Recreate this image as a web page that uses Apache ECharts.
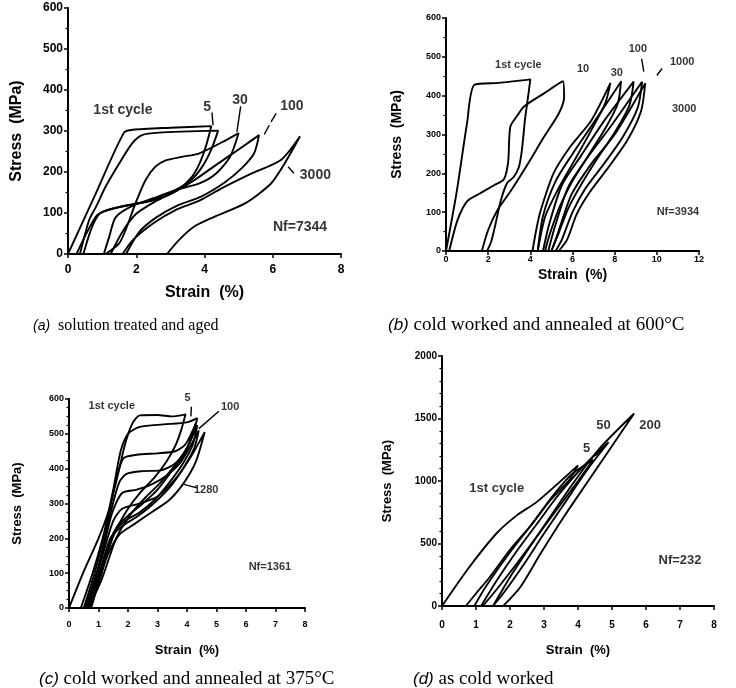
<!DOCTYPE html>
<html><head><meta charset="utf-8">
<script src="https://cdn.jsdelivr.net/npm/echarts@6/dist/echarts.min.js"></script>
<style>html,body{margin:0;padding:0;background:#fff}#c{width:736px;height:688px}</style>
</head><body><div id="c"></div>
<script>
// ---------- Panel (a): solution treated and aged ----------
const a_cycle1 = [[0,0],[0.8,145],[1.64,296],[1.9,303],[3,308],[4.2,312],[4.05,265],[3.85,220],[3.6,185],[3.2,155],[2.6,133],[1.9,121],[1.2,108],[0.86,95],[0.6,60],[0.25,0]];
const a_cycle5 = [[0.35,0],[0.62,83],[0.82,115],[1.1,164],[1.5,221],[1.88,270],[2.17,290],[2.66,296],[4.4,301],[4.2,255],[3.95,215],[3.6,180],[3.0,150],[2.3,128],[1.5,115],[0.95,100],[0.7,65],[0.45,0]];
const a_cycle30 = [[1.1,0],[1.5,26],[1.69,59],[1.98,124],[2.27,180],[2.56,213],[2.85,228],[3.34,237],[3.83,245],[4.5,272],[5.0,295],[4.75,237],[4.35,197],[3.85,172],[3.15,156],[2.5,136],[1.9,118],[1.4,90],[1.2,40],[1.05,0]];
const a_cycle100 = [[1.25,0],[1.6,55],[2.0,98],[2.6,130],[3.2,155],[3.7,180],[4.3,215],[5.0,255],[5.6,290],[5.45,245],[5.1,210],[4.6,175],[3.9,140],[3.2,118],[2.6,90],[2.1,55],[1.7,0]];
const a_cycle3000 = [[1.6,0],[1.9,34],[2.5,75],[3.15,107],[3.85,130],[4.5,160],[5.4,197],[6.25,230],[6.8,287],[6.35,221],[5.95,172],[5.2,124],[4.3,91],[3.7,67],[3.25,34],[2.9,0]];
// ---------- Panel (b): cold worked and annealed at 600°C ----------
const b_cycle1 = [[0,0],[0.5,150],[1.0,330],[1.35,428],[2.5,433],[4.0,442],[3.9,400],[3.75,340],[3.6,260],[3.45,215],[3.2,190],[2.9,175],[2.6,130],[2.35,70],[2.15,25],[1.95,0]];
const b_cycle2 = [[0.15,0],[0.55,80],[1.0,128],[1.6,148],[2.3,170],[2.75,185],[2.95,230],[3.05,320],[3.4,350],[3.7,372],[4.65,406],[5.55,437],[5.6,395],[5.35,354],[4.65,294],[3.9,226],[3.1,157],[2.45,106],[2.0,54],[1.7,0]];
const b_cycle10 = [[4.1,0],[4.3,60],[4.5,106],[5.1,200],[5.9,269],[6.9,337],[7.8,433],[7.55,380],[6.9,312],[6.1,234],[5.3,157],[4.7,88],[4.35,0]];
const b_cycle30 = [[4.35,0],[4.6,90],[5.2,180],[6.0,250],[7.0,330],[8.3,436],[8.15,380],[7.6,320],[6.8,250],[6.0,180],[5.4,115],[4.9,40],[4.7,0]];
const b_cycle100 = [[4.6,0],[4.9,70],[5.5,170],[6.4,245],[7.5,335],[8.9,436],[8.7,375],[8.0,305],[7.2,240],[6.4,170],[5.8,110],[5.3,40],[5.0,0]];
const b_cycle1000 = [[4.85,0],[5.15,60],[5.8,165],[6.7,240],[7.8,320],[9.3,436],[9.1,370],[8.4,295],[7.5,225],[6.6,160],[6.0,100],[5.5,30],[5.2,0]];
const b_cycle3000 = [[5.0,0],[5.3,45],[5.95,145],[6.9,225],[8.0,300],[9.45,432],[9.25,360],[8.6,285],[7.7,215],[6.8,150],[6.2,95],[5.75,30],[5.35,0]];
// ---------- Panel (c): cold worked and annealed at 375°C ----------
const c_cycle1 = [[0,0],[0.5,105],[1.0,200],[1.35,280],[1.65,380],[1.9,470],[2.15,530],[2.4,553],[3.0,554],[3.5,550],[3.95,556],[3.8,510],[3.6,465],[3.3,420],[2.9,375],[2.4,330],[2.0,285],[1.6,225],[1.2,140],[0.8,50],[0.5,0]];
const c_cycle5 = [[0.4,0],[0.8,100],[1.2,220],[1.5,340],[1.75,450],[2.0,500],[2.4,520],[3.2,527],[4.0,533],[4.35,545],[4.2,500],[3.95,450],[3.6,410],[3.1,360],[2.6,318],[2.1,270],[1.6,200],[1.1,80],[0.65,0]];
const c_cycle20 = [[0.5,0],[0.9,110],[1.3,250],[1.6,370],[1.85,430],[2.3,440],[3.0,444],[3.6,450],[3.95,470],[4.3,530],[4.15,490],[3.9,440],[3.5,395],[3.0,340],[2.5,300],[2.0,265],[1.6,230],[1.2,130],[0.7,0]];
const c_cycle100 = [[0.55,0],[1.0,120],[1.4,270],[1.7,360],[1.95,385],[2.5,393],[3.1,395],[3.6,415],[4.0,460],[4.35,525],[4.2,470],[3.9,420],[3.4,360],[2.9,310],[2.4,275],[1.9,250],[1.5,215],[1.1,100],[0.7,0]];
const c_cycle500 = [[0.6,0],[1.05,130],[1.45,270],[1.8,330],[2.3,340],[2.8,355],[3.3,380],[3.8,420],[4.4,510],[4.25,460],[3.9,405],[3.4,345],[2.8,295],[2.3,262],[1.8,235],[1.4,200],[1.0,90],[0.7,0]];
const c_cycle1280 = [[0.65,0],[1.1,140],[1.5,250],[1.8,285],[2.4,300],[3.0,320],[3.6,370],[4.1,430],[4.6,505],[4.3,420],[3.9,360],[3.4,310],[2.8,275],[2.2,240],[1.7,210],[1.3,150],[1.0,70],[0.75,0]];
// ---------- Panel (d): as cold worked ----------
const d_cycle1 = [[0,0],[0.8,310],[1.6,580],[2.2,725],[2.8,835],[4.0,1125],[3.75,1010],[3.2,850],[2.6,640],[2.0,450],[1.4,230],[1.0,100],[0.7,0]];
const d_cycle5 = [[0.95,0],[1.3,160],[2.0,430],[2.6,640],[3.2,860],[3.8,1050],[4.45,1170],[4.0,1000],[3.4,780],[2.8,560],[2.2,340],[1.6,130],[1.2,0]];
const d_cycle50 = [[1.15,0],[1.6,200],[2.2,440],[2.8,660],[3.4,880],[4.2,1130],[4.9,1310],[4.3,1100],[3.6,820],[3.0,580],[2.4,330],[1.8,100],[1.5,0]];
const d_cycle200 = [[1.5,0],[2.0,230],[2.6,480],[3.2,720],[3.8,960],[4.6,1250],[5.65,1540],[5.0,1280],[4.3,1000],[3.6,720],[2.9,420],[2.3,150],[1.8,0]];

// tick labels / ranges
const a_xTicks = [0,2,4,6,8], a_yTicks = [0,100,200,300,400,500,600];
const b_xTicks = [0,2,4,6,8,10,12], b_yTicks = [0,100,200,300,400,500,600];
const c_xTicks = [0,1,2,3,4,5,6,7,8], c_yTicks = [0,100,200,300,400,500,600];
const d_xTicks = [0,1,2,3,4,5,6,7,8], d_yTicks = [0,500,1000,1500,2000];

// annotations: [text, x, y]
const a_notes = [['1st cycle',1.61,351],['5',4.08,359],['30',5.04,376],['100',6.56,361],['3000',7.25,193],['Nf=7344',6.8,66]];
const b_notes = [['1st cycle',3.43,479],['10',6.5,470],['30',8.1,459],['100',9.1,519],['1000',11.2,487],['3000',11.3,367],['Nf=3934',11.0,101]];
const c_notes = [['1st cycle',1.45,580],['5',4.02,602],['100',5.46,578],['1280',4.65,339],['Nf=1361',6.81,117]];
const d_notes = [['1st cycle',1.61,941],['5',4.25,1261],['50',4.75,1448],['200',6.12,1448],['Nf=232',7.0,368]];
// leader lines
const a_leaders = [[[4.22,345],[4.25,314]],[[5.06,360],[4.95,298]],[[6.1,343],[5.95,322]],[[5.9,314],[5.75,292]],[[6.45,213],[6.62,197]]];
const b_leaders = [[[9.28,495],[9.38,462]],[[10.0,452],[10.25,470]]];
const c_leaders = [[[4.15,578],[4.13,550]],[[5.08,565],[4.4,515]],[[4.33,345],[3.9,355]]];
const d_leaders = [[[4.5,1200],[4.65,1235]]];

const panels = [
  {loops:[a_cycle1,a_cycle5,a_cycle30,a_cycle100,a_cycle3000], xt:a_xTicks, yt:a_yTicks, notes:a_notes, leaders:a_leaders,
   grid:{left:68,top:8,width:273,height:246}, tick:12, name:16, note:14, xGap:31, yGap:43, minorY:2, xMargin:10},
  {loops:[b_cycle1,b_cycle2,b_cycle10,b_cycle30,b_cycle100,b_cycle1000,b_cycle3000], xt:b_xTicks, yt:b_yTicks, notes:b_notes, leaders:b_leaders,
   grid:{left:446,top:18,width:253,height:233}, tick:9, name:14, note:11, xGap:17, yGap:42, minorY:2, xMargin:4},
  {loops:[c_cycle1,c_cycle5,c_cycle20,c_cycle100,c_cycle500,c_cycle1280], xt:c_xTicks, yt:c_yTicks, notes:c_notes, leaders:c_leaders,
   grid:{left:69,top:399,width:236,height:209}, tick:9, name:13, note:11, xGap:36, yGap:45, minorY:4, xMargin:12},
  {loops:[d_cycle1,d_cycle5,d_cycle50,d_cycle200], xt:d_xTicks, yt:d_yTicks, notes:d_notes, leaders:d_leaders,
   grid:{left:442,top:356,width:272,height:250}, tick:10, name:13, note:13, xGap:38, yGap:48, minorY:5, xMargin:14}
];

const FONT = 'Liberation Sans';
const grids=[], xAxes=[], yAxes=[], series=[];
panels.forEach((p,i)=>{
  grids.push(p.grid);
  const axisCommon = {
    type:'value', gridIndex:i,
    axisLine:{show:true, lineStyle:{color:'#000', width:2}},
    axisTick:{show:true, length:4, lineStyle:{color:'#000', width:1.5}},
    splitLine:{show:false},
    nameLocation:'middle',
    nameTextStyle:{fontFamily:FONT, fontWeight:'bold', fontSize:p.name, color:'#000'}
  };
  xAxes.push(Object.assign({}, axisCommon, {
    min:p.xt[0], max:p.xt[p.xt.length-1], interval:p.xt[1]-p.xt[0],
    axisLabel:{fontFamily:FONT, fontWeight:'bold', fontSize:p.tick, color:'#000', margin:p.xMargin, formatter:v=>String(v)},
    name:'Strain  (%)', nameGap:p.xGap
  }));
  yAxes.push(Object.assign({}, axisCommon, {
    min:p.yt[0], max:p.yt[p.yt.length-1], interval:p.yt[1]-p.yt[0],
    minorTick:{show:true, splitNumber:p.minorY, length:2.5, lineStyle:{color:'#000', width:1.2}},
    axisLabel:{fontFamily:FONT, fontWeight:'bold', fontSize:p.tick, color:'#000', margin:5, formatter:v=>String(v)},
    name:'Stress  (MPa)', nameGap:p.yGap
  }));
  p.loops.forEach(l=>series.push({type:'line', xAxisIndex:i, yAxisIndex:i, data:l, showSymbol:false, smooth:0.25,
    lineStyle:{color:'#000', width:1.9}, silent:true}));
  p.leaders.forEach(l=>series.push({type:'line', xAxisIndex:i, yAxisIndex:i, data:l, showSymbol:false,
    lineStyle:{color:'#000', width:1.4}, silent:true}));
  series.push({type:'scatter', xAxisIndex:i, yAxisIndex:i, symbolSize:0, silent:true, clip:false,
    data:p.notes.map(n=>({value:[n[1],n[2]], name:n[0]})),
    label:{show:true, position:'inside', formatter:'{b}', fontFamily:FONT, fontWeight:'bold', fontSize:p.note, color:'#000'}});
});

const capStyle = (size)=>({fontFamily:'Liberation Serif', fontWeight:'normal', fontSize:size, color:'#000',
  rich:{i:{fontFamily:'Liberation Sans', fontStyle:'italic', fontSize:size-2, color:'#000'}}});
const titles = [
  {text:'{i|(a)}  solution treated and aged', left:28, top:313, textStyle:capStyle(16)},
  {text:'{i|(b)} cold worked and annealed at 600°C', left:383, top:311, textStyle:capStyle(19)},
  {text:'{i|(c)} cold worked and annealed at 375°C', left:34, top:665, textStyle:capStyle(19)},
  {text:'{i|(d)} as cold worked', left:408, top:665, textStyle:capStyle(19)}
];

const chart = echarts.init(document.getElementById('c'), null, {renderer:'canvas'});
chart.setOption({animation:false, backgroundColor:'#fff', title:titles, grid:grids, xAxis:xAxes, yAxis:yAxes, series:series});
</script></body></html>
